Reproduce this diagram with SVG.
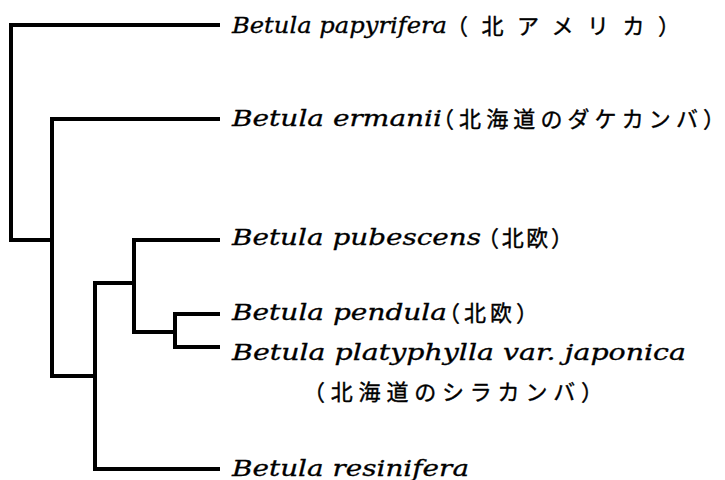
<svg xmlns="http://www.w3.org/2000/svg" width="725" height="480" viewBox="0 0 725 480">
  <style>
    .branch { fill: none; stroke: #000; stroke-width: 4; stroke-linejoin: miter; stroke-linecap: butt; }
    .sp { font-family: "DejaVu Serif", "Liberation Serif", serif; font-style: italic; font-size: 22px; fill: #000; stroke: #000; stroke-width: 0.3; }
    .jp { font-family: "Noto Sans CJK JP", "Noto Sans", sans-serif; font-size: 22px; fill: #000; stroke: #000; stroke-width: 0.4; }
  </style>
  <rect width="725" height="480" fill="#fff"/>

  <!-- branches of the tree -->
  <g id="connectors">
    <path class="branch" d="M220,25 H11 V240 H52"/>
    <path class="branch" d="M220,119 H52 V376 H95"/>
    <path class="branch" d="M134,283 H95 V469 H220"/>
    <path class="branch" d="M220,240 H134 V332 H175"/>
    <path class="branch" d="M220,314 H175 V347 H220"/>
  </g>

  <!-- leaf labels -->
  <g id="papyrifera">
    <text class="sp" x="232" y="33" textLength="215" lengthAdjust="spacingAndGlyphs">Betula papyrifera</text>
    <text class="jp" x="446" y="34" textLength="234" lengthAdjust="spacing">（北アメリカ）</text>
  </g>
  <g id="ermanii">
    <text class="sp" x="232" y="126" textLength="210" lengthAdjust="spacingAndGlyphs">Betula ermanii</text>
    <text class="jp" x="432" y="127" textLength="293" lengthAdjust="spacing">（北海道のダケカンバ）</text>
  </g>
  <g id="pubescens">
    <text class="sp" x="232" y="245" textLength="249" lengthAdjust="spacingAndGlyphs">Betula pubescens</text>
    <text class="jp" x="477" y="246" textLength="96" lengthAdjust="spacing">（北欧）</text>
  </g>
  <g id="pendula">
    <text class="sp" x="232" y="320" textLength="215" lengthAdjust="spacingAndGlyphs">Betula pendula</text>
    <text class="jp" x="438" y="321" textLength="100" lengthAdjust="spacing">（北欧）</text>
  </g>
  <g id="platyphylla">
    <text class="sp" x="232" y="360" textLength="454" lengthAdjust="spacingAndGlyphs">Betula platyphylla var. japonica</text>
    <text class="jp" x="303" y="400" textLength="300" lengthAdjust="spacing">（北海道のシラカンバ）</text>
  </g>
  <g id="resinifera">
    <text class="sp" x="232" y="476" textLength="237" lengthAdjust="spacingAndGlyphs">Betula resinifera</text>
  </g>
</svg>
